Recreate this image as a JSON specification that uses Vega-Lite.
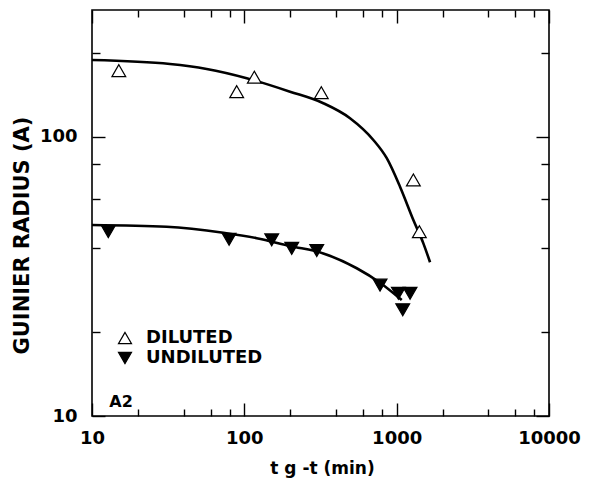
{
  "$schema": "https://vega.github.io/schema/vega-lite/v6.json",
  "autosize": "none",
  "width": 457,
  "height": 406,
  "padding": {"left": 92, "top": 10, "right": 41, "bottom": 67},
  "background": "white",
  "config": {
    "view": {"stroke": "black", "strokeWidth": 1.6},
    "font": "DejaVu Sans",
    "axis": {"grid": false, "domain": false, "tickColor": "black", "tickWidth": 1.4, "labelFont": "DejaVu Sans", "labelFontWeight": "bold", "labelColor": "black", "titleFont": "DejaVu Sans", "titleFontWeight": "bold", "titleColor": "black"}
  },
  "datasets": {
    "fitD": [
      {"t": 10, "r": 188}, {"t": 32.5, "r": 182}, {"t": 56.6, "r": 174.7}, {"t": 103.7, "r": 161.9},
      {"t": 199.5, "r": 144.9}, {"t": 330, "r": 131.7}, {"t": 494, "r": 116.4}, {"t": 703, "r": 97.3},
      {"t": 861, "r": 83.7}, {"t": 1052, "r": 66.2}, {"t": 1287, "r": 50.3}, {"t": 1497, "r": 41.5}, {"t": 1657, "r": 35.5}
    ],
    "fitU": [
      {"t": 10, "r": 48.3}, {"t": 30.9, "r": 47.6}, {"t": 72.8, "r": 45.3}, {"t": 120.6, "r": 43.3},
      {"t": 199.5, "r": 40.6}, {"t": 330, "r": 38.2}, {"t": 547, "r": 33.8}, {"t": 778, "r": 30.0}, {"t": 1080, "r": 26.0}
    ],
    "pts": [
      {"t": 15.0, "r": 172.3, "series": "DILUTED"},
      {"t": 89.1, "r": 144.9, "series": "DILUTED"},
      {"t": 116.3, "r": 163.2, "series": "DILUTED"},
      {"t": 320, "r": 143.7, "series": "DILUTED"},
      {"t": 1287, "r": 70.0, "series": "DILUTED"},
      {"t": 1409, "r": 45.7, "series": "DILUTED"},
      {"t": 12.8, "r": 45.7, "series": "UNDILUTED"},
      {"t": 79.4, "r": 42.9, "series": "UNDILUTED"},
      {"t": 151.3, "r": 42.7, "series": "UNDILUTED"},
      {"t": 204.8, "r": 39.8, "series": "UNDILUTED"},
      {"t": 298.8, "r": 39.1, "series": "UNDILUTED"},
      {"t": 778, "r": 29.4, "series": "UNDILUTED"},
      {"t": 1026, "r": 27.5, "series": "UNDILUTED"},
      {"t": 1224, "r": 27.5, "series": "UNDILUTED"},
      {"t": 1096, "r": 24.0, "series": "UNDILUTED"}
    ],
    "lab": [{"t": 15.5, "r": 11.2, "text": "A2"}]
  },
  "resolve": {"scale": {"x": "shared", "y": "shared"}, "axis": {"x": "independent", "y": "independent"}},
  "layer": [
    {
      "data": {"name": "fitD"},
      "mark": {"type": "line", "color": "black", "strokeWidth": 2.6, "interpolate": "monotone", "clip": true},
      "encoding": {
        "x": {"field": "t", "type": "quantitative",
          "scale": {"type": "log", "domain": [10, 10000], "nice": false},
          "axis": {"orient": "bottom", "values": [10, 100, 1000, 10000], "tickSize": -13, "labelPadding": 26, "labelFontSize": 18, "labelFlush": false, "format": "d",
            "title": "t g -t (min)", "titleFontSize": 17, "titleX": 230, "titleY": 52, "titleBaseline": "middle", "titleAlign": "center"}},
        "y": {"field": "r", "type": "quantitative",
          "scale": {"type": "log", "domain": [10, 284], "nice": false},
          "axis": {"orient": "left", "values": [10, 100], "tickSize": -13, "labelPadding": 28, "labelFontSize": 18, "labelFlush": false, "format": "d",
            "title": "GUINIER RADIUS (A)", "titleFontSize": 21, "titleX": -70, "titleY": 225, "titleBaseline": "middle", "titleAlign": "center", "titleAngle": -90}}
      }
    },
    {
      "data": {"name": "fitU"},
      "mark": {"type": "line", "color": "black", "strokeWidth": 2.6, "interpolate": "monotone", "clip": true},
      "encoding": {
        "x": {"field": "t", "type": "quantitative",
          "axis": {"orient": "bottom", "values": [20, 40, 60, 80, 200, 400, 600, 800, 2000, 4000, 6000, 8000], "tickSize": -7, "labels": false, "title": null}},
        "y": {"field": "r", "type": "quantitative",
          "axis": {"orient": "left", "values": [20, 40, 60, 80, 200], "tickSize": -8, "labels": false, "title": null}}
      }
    },
    {
      "data": {"name": "pts"},
      "mark": {"type": "point", "filled": true, "stroke": "black", "strokeWidth": 1.2, "size": 190, "opacity": 1},
      "encoding": {
        "x": {"field": "t", "type": "quantitative",
          "axis": {"orient": "top", "values": [10, 100, 1000, 10000], "tickSize": -13, "labels": false, "title": null}},
        "y": {"field": "r", "type": "quantitative",
          "axis": {"orient": "right", "values": [10, 100], "tickSize": -13, "labels": false, "title": null}},
        "shape": {"field": "series", "type": "nominal",
          "scale": {"domain": ["DILUTED", "UNDILUTED"], "range": ["triangle-up", "triangle-down"]},
          "legend": {"title": null, "orient": "none", "legendX": 24, "legendY": 319, "labelFontSize": 18, "labelFont": "DejaVu Sans", "labelFontWeight": "bold", "labelColor": "black", "symbolSize": 170, "labelOffset": 12, "rowPadding": 2, "padding": 0, "symbolStrokeWidth": 1.2}},
        "fill": {"field": "series", "type": "nominal",
          "scale": {"domain": ["DILUTED", "UNDILUTED"], "range": ["white", "black"]},
          "legend": {"title": null, "orient": "none", "legendX": 24, "legendY": 319, "labelFontSize": 18, "labelFont": "DejaVu Sans", "labelFontWeight": "bold", "labelColor": "black", "symbolSize": 170, "labelOffset": 12, "rowPadding": 2, "padding": 0, "symbolStrokeWidth": 1.2}}
      }
    },
    {
      "data": {"name": "lab"},
      "mark": {"type": "text", "fontSize": 16, "fontWeight": "bold", "font": "DejaVu Sans", "color": "black", "baseline": "middle", "align": "center"},
      "encoding": {
        "x": {"field": "t", "type": "quantitative",
          "axis": {"orient": "top", "values": [20, 40, 60, 80, 200, 400, 600, 800, 2000, 4000, 6000, 8000], "tickSize": -7, "labels": false, "title": null}},
        "y": {"field": "r", "type": "quantitative",
          "axis": {"orient": "right", "values": [20, 40, 60, 80, 200], "tickSize": -8, "labels": false, "title": null}},
        "text": {"field": "text", "type": "nominal"}
      }
    }
  ]
}
